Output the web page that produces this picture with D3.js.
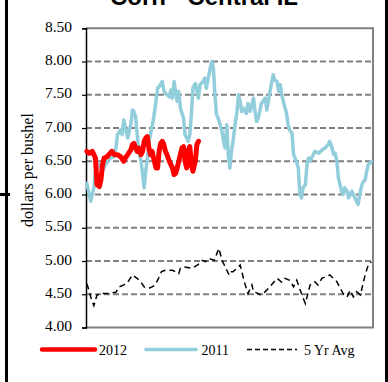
<!DOCTYPE html>
<html>
<head>
<meta charset="utf-8">
<script src="https://cdn.jsdelivr.net/npm/d3@7"></script>
<style>
  html, body { margin: 0; padding: 0; background: #fff; }
  svg { display: block; }
</style>
</head>
<body>
<svg id="chart" width="388" height="382"></svg>
<script>
// ---- data ----
const title = "Corn - Central IL";
const yLabel = "dollars per bushel";
const yTicks = [4.0, 4.5, 5.0, 5.5, 6.0, 6.5, 7.0, 7.5, 8.0, 8.5];
const seriesNames = ["2012", "2011", "5 Yr Avg"];

// day of marketing year (0..365)
const days2012 = [1,4,8,10,12,14,17,19,21,23,27,29,33,36,40,44,48,50,53,57,59,61,65,67,70,72,74,76,78,80,82,84,86,89,91,93,95,97,99,101,103,106,108,110,112,114,116,118,120,122,124,126,128,130,132,134,136,139,141,143];
const values2012 = [6.65,6.62,6.65,6.60,6.55,6.15,6.12,6.22,6.45,6.55,6.57,6.60,6.65,6.60,6.60,6.57,6.50,6.55,6.60,6.67,6.75,6.77,6.65,6.70,6.60,6.65,6.80,6.85,6.87,6.70,6.60,6.65,6.55,6.40,6.40,6.65,6.77,6.80,6.75,6.65,6.60,6.50,6.45,6.40,6.30,6.32,6.40,6.50,6.60,6.70,6.72,6.50,6.40,6.65,6.72,6.45,6.35,6.50,6.75,6.80];

const days2011 = [1,6,10,12,17,21,25,31,36,38,40,44,46,48,50,53,57,59,61,63,65,67,70,72,74,76,78,80,82,86,89,91,93,97,99,101,106,108,110,112,116,118,120,124,126,130,132,134,136,139,143,145,149,151,153,158,160,162,164,166,168,173,175,177,179,181,183,185,187,189,192,194,196,198,200,204,206,209,213,215,217,219,221,223,228,230,232,234,238,240,243,245,247,249,251,255,257,259,262,264,266,270,272,274,276,279,281,283,285,289,291,296,300,304,308,310,313,315,317,319,321,323,325,327,329,332,334,338,340,342,344,346,349,351,353,355,357,359,361,363];
const values2011 = [6.17,5.90,6.10,6.35,6.45,6.37,6.45,6.55,6.57,6.70,6.90,6.97,6.90,7.12,7.02,6.85,7.05,7.27,7.25,7.17,6.92,6.65,6.50,6.30,6.10,6.35,6.55,6.80,6.90,7.15,7.40,7.60,7.62,7.70,7.57,7.52,7.47,7.57,7.45,7.70,7.40,7.55,7.30,7.15,6.90,6.80,6.90,7.20,7.60,7.67,7.45,7.65,7.70,7.75,7.60,7.90,8.00,7.90,7.50,7.20,7.15,6.95,6.80,6.70,7.05,6.60,6.40,6.65,6.80,7.00,7.25,7.50,7.40,7.25,7.30,7.22,7.37,7.25,7.45,7.25,7.10,7.15,7.25,7.37,7.45,7.27,7.42,7.55,7.80,7.72,7.70,7.55,7.65,7.50,7.40,7.22,7.05,6.97,6.92,6.60,6.55,6.40,6.00,5.95,6.10,6.15,6.45,6.55,6.50,6.60,6.65,6.62,6.67,6.70,6.75,6.80,6.70,6.60,6.62,6.50,6.25,6.15,6.05,6.00,6.10,6.05,5.95,6.05,6.00,5.95,5.90,5.85,6.05,6.15,6.20,6.22,6.35,6.45,6.47,6.50];

const daysAvg = [1,3,6,10,12,14,21,28,38,42,48,53,59,65,70,74,80,84,88,93,96,101,110,118,120,125,135,142,148,152,156,163,169,173,182,184,187,192,196,202,206,211,213,223,228,232,243,249,253,259,264,268,274,279,285,291,295,300,310,319,327,332,336,340,344,349,355,359,363];
const valuesAvg = [4.66,4.59,4.46,4.33,4.41,4.49,4.51,4.51,4.53,4.61,4.64,4.68,4.79,4.74,4.68,4.61,4.59,4.61,4.64,4.76,4.84,4.86,4.86,4.81,4.89,4.91,4.89,4.94,5.01,4.99,5.04,5.01,5.19,5.01,4.79,4.84,4.84,4.89,4.94,4.66,4.51,4.64,4.54,4.49,4.54,4.59,4.74,4.68,4.74,4.71,4.61,4.71,4.51,4.36,4.64,4.69,4.64,4.74,4.79,4.69,4.51,4.46,4.56,4.46,4.54,4.49,4.79,4.94,4.99];

// ---- layout ----
const svg = d3.select("#chart");
const plot = { left: 86, right: 373, top: 28.3, bottom: 327.5 };

const x = d3.scaleLinear().domain([0, 365]).range([plot.left, plot.right]);
const y = d3.scaleLinear().domain([4, 8.5]).range([plot.bottom, plot.top]);

// outer frame
svg.append("rect").attr("x", 5).attr("y", 0).attr("width", 3).attr("height", 382).attr("fill", "#000");
svg.append("rect").attr("x", 385).attr("y", 0).attr("width", 3).attr("height", 382).attr("fill", "#000");
svg.append("rect").attr("x", 0).attr("y", 193).attr("width", 10).attr("height", 3).attr("fill", "#000");

// title (cropped at top)
svg.append("text")
  .attr("x", 204).attr("y", 4.5)
  .attr("text-anchor", "middle")
  .attr("font-family", "Liberation Sans, Arial, sans-serif")
  .attr("font-weight", "bold")
  .attr("font-size", 24)
  .text(title);

// gridlines
svg.append("g")
  .selectAll("line")
  .data(yTicks.filter(v => v > 4 && v < 8.5))
  .join("line")
  .attr("x1", plot.left).attr("x2", plot.right)
  .attr("y1", d => y(d)).attr("y2", d => y(d))
  .attr("stroke", "#808080")
  .attr("stroke-width", 2)
  .attr("stroke-dasharray", "6,3");

// plot border (top, right, bottom)
svg.append("path")
  .attr("d", `M${plot.left},${y(8.5)}H${plot.right}V${y(4)}H${plot.left}`)
  .attr("fill", "none")
  .attr("stroke", "#808080")
  .attr("stroke-width", 2);

// y axis
const yAxis = d3.axisLeft(y).tickValues(yTicks).tickFormat(d3.format(".2f")).tickSize(4).tickPadding(10);
const ga = svg.append("g").attr("transform", `translate(${plot.left},0)`).call(yAxis);
ga.select(".domain").attr("stroke", "#000").attr("stroke-width", 1.5);
ga.selectAll(".tick line").attr("stroke", "#000").attr("stroke-width", 1.2);
ga.selectAll(".tick text")
  .attr("font-family", "Liberation Serif, Times New Roman, serif")
  .attr("font-size", 15.5)
  .attr("fill", "#000")
  .attr("dy", "0.2em");

// y label
svg.append("text")
  .attr("transform", "translate(33,170) rotate(-90)")
  .attr("text-anchor", "middle")
  .attr("font-family", "Liberation Serif, Times New Roman, serif")
  .attr("font-size", 16)
  .text(yLabel);

// series
const line = d3.line().x(d => x(d[0])).y(d => y(d[1]));
const zipS = (ds, vs) => ds.map((d, i) => [d, vs[i]]);

svg.append("path")
  .datum(zipS(daysAvg, valuesAvg))
  .attr("d", line)
  .attr("fill", "none")
  .attr("stroke", "#000")
  .attr("stroke-width", 1.5)
  .attr("stroke-dasharray", "6,4");

svg.append("path")
  .datum(zipS(days2011, values2011))
  .attr("d", line)
  .attr("fill", "none")
  .attr("stroke", "#92CDDC")
  .attr("stroke-width", 3.5)
  .attr("stroke-linejoin", "round")
  .attr("stroke-linecap", "round");

svg.append("path")
  .datum(zipS(days2012, values2012))
  .attr("d", line)
  .attr("fill", "none")
  .attr("stroke", "#FF0000")
  .attr("stroke-width", 5)
  .attr("stroke-linejoin", "round")
  .attr("stroke-linecap", "round");

// legend
const legend = [
  { name: seriesNames[0], color: "#FF0000", width: 4.5, dash: null, x1: 42, x2: 95, tx: 99 },
  { name: seriesNames[1], color: "#92CDDC", width: 3.5, dash: null, x1: 146, x2: 196, tx: 201.5 },
  { name: seriesNames[2], color: "#000", width: 1.5, dash: "5,3", x1: 247, x2: 297, tx: 304 }
];
const lg = svg.append("g");
legend.forEach(l => {
  lg.append("line")
    .attr("x1", l.x1).attr("x2", l.x2).attr("y1", 349.5).attr("y2", 349.5)
    .attr("stroke", l.color).attr("stroke-width", l.width)
    .attr("stroke-linecap", l.dash ? "butt" : "round")
    .attr("stroke-dasharray", l.dash);
  lg.append("text")
    .attr("x", l.tx).attr("y", 354.5)
    .attr("font-family", "Liberation Serif, Times New Roman, serif")
    .attr("font-size", 14)
    .text(l.name);
});
</script>
</body>
</html>
